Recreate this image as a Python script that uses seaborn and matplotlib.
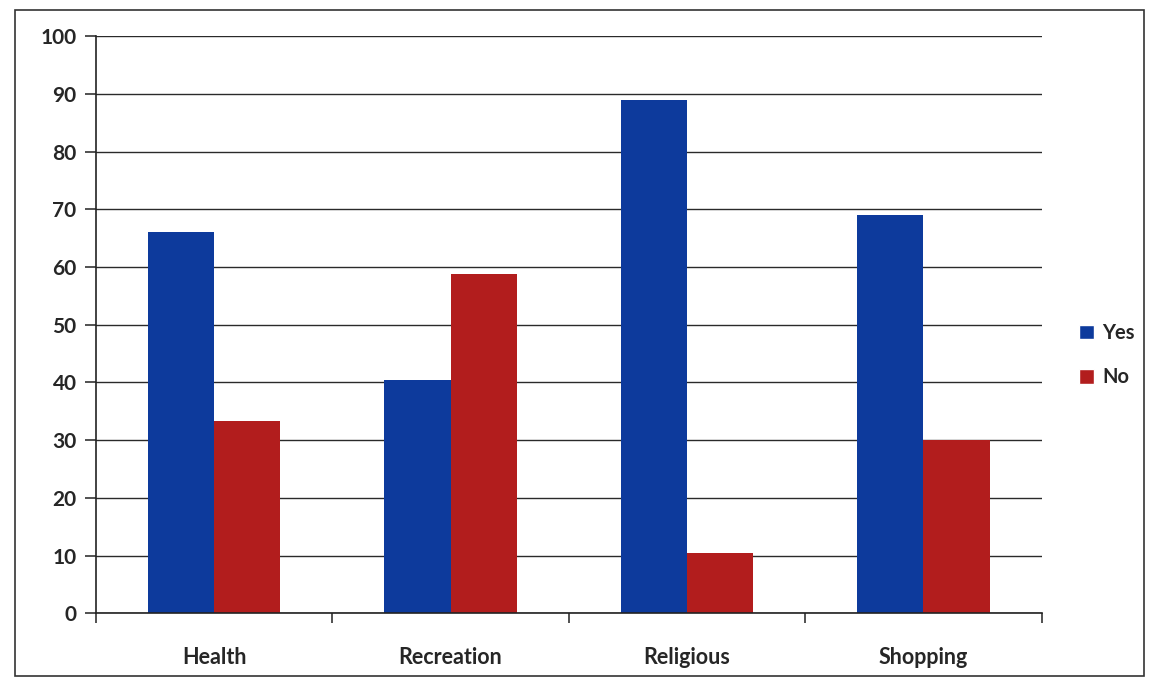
import matplotlib
matplotlib.use("Agg")
import matplotlib.pyplot as plt
import seaborn as sns
import pandas as pd
from matplotlib.patches import Rectangle, Patch

categories = ["Health", "Recreation", "Religious", "Shopping"]
yes_values = [66, 40.5, 89, 69]
no_values = [33.3, 58.8, 10.5, 30]
series = ["Yes", "No"]
colors = {"Yes": "#0d3a9c", "No": "#b21d1d"}

df = pd.DataFrame({
    "Category": categories * 2,
    "Answer": ["Yes"] * 4 + ["No"] * 4,
    "Value": yes_values + no_values,
})

sns.set_style("white")
plt.rcParams["font.family"] = ["Lato", "DejaVu Sans"]

fig = plt.figure(figsize=(11.56, 6.83), dpi=100)
ax = fig.add_axes([0.083, 0.102, 0.818, 0.845])

sns.barplot(data=df, x="Category", y="Value", hue="Answer", hue_order=series,
            palette=colors, width=0.56, saturation=1, linewidth=0,
            ax=ax, legend=False)

ax.set_ylim(0, 100)
ax.set_xlim(-0.5, 3.5)
ax.set_yticks(range(0, 101, 10))
ax.yaxis.grid(True, color="#2a2a2a", linewidth=1.0)
ax.set_axisbelow(True)
for s in ["top", "right"]:
    ax.spines[s].set_visible(False)
ax.spines["left"].set_color("#222222")
ax.spines["bottom"].set_color("#222222")
ax.spines["left"].set_linewidth(1.2)
ax.spines["bottom"].set_linewidth(1.2)

ax.tick_params(axis="y", left=True, direction="out", length=8, width=1.1,
               color="#222222", labelsize=15, pad=6)
for t in ax.get_yticklabels():
    t.set_fontweight("bold")

ax.set_xticks([-0.5, 0.5, 1.5, 2.5, 3.5], minor=True)
ax.tick_params(axis="x", which="major", bottom=False, length=0, labelsize=15.5, pad=24)
ax.tick_params(axis="x", which="minor", bottom=True, direction="out", length=7,
               width=1.1, color="#222222")
for t in ax.get_xticklabels():
    t.set_fontweight("bold")
ax.set_xlabel("")
ax.set_ylabel("")

handles = [Patch(facecolor=colors[s], label=s) for s in series]
leg = fig.legend(handles=handles, loc="center left", bbox_to_anchor=(0.918, 0.48),
                 frameon=False, handlelength=0.75, handleheight=0.75,
                 handletextpad=0.4, labelspacing=1.2,
                 prop={"size": 14.5, "weight": "bold"})

fig.patches.append(Rectangle((0.013, 0.01), 0.977, 0.975, transform=fig.transFigure,
                             fill=False, edgecolor="#333333", linewidth=1.2))

fig.savefig("out.png", dpi=100, facecolor="white")
